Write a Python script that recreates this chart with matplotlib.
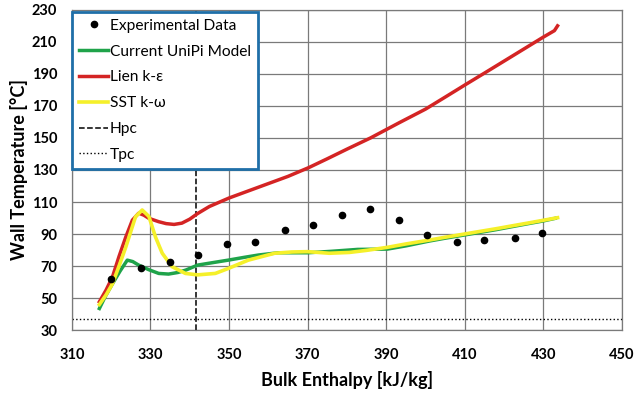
import numpy as np
import matplotlib.pyplot as plt

plt.rcParams['font.family'] = ['Lato', 'DejaVu Sans']

# experimental wall temperatures
h_exp = [320.0, 327.5, 335.0, 342.2, 349.4, 356.7, 364.2, 371.3, 378.7,
         385.9, 393.2, 400.5, 407.9, 415.0, 422.7, 429.7]
t_exp = [61.7, 68.5, 72.7, 76.7, 83.5, 84.8, 92.3, 95.6, 102.0,
         105.4, 98.8, 89.6, 85.2, 86.2, 87.5, 90.4]

# current UniPi model
h_unipi = [317.0, 318.5, 320.3, 322.3, 324.1, 325.5, 327.0, 329.5, 332.1, 334.6,
           337.0, 339.0, 342.0, 346.0, 349.8, 354.0, 357.5, 362.5, 370.0,
           376.0, 382.7, 390.3, 395.0, 400.9, 405.0, 409.4, 413.5, 417.9,
           422.0, 426.4, 430.0, 433.0]
t_unipi = [43.5, 51.0, 58.8, 67.0, 73.7, 72.8, 70.6, 67.8, 65.4, 65.0,
           66.0, 67.5, 70.6, 72.2, 73.7, 75.5, 76.9, 78.3, 78.3,
           79.2, 80.4, 80.6, 82.6, 85.6, 87.4, 89.2, 90.9, 92.7,
           94.6, 96.6, 98.2, 99.8]

# Lien k-epsilon
h_lien = [317.0, 318.7, 320.3, 322.0, 323.7, 325.4, 327.0, 328.3, 329.6, 332.1,
          334.0, 336.0, 338.0, 340.0, 342.0, 345.0, 350.0, 355.0, 360.0, 365.0,
          370.3, 375.0, 380.0, 386.0, 393.3, 400.0, 405.0, 410.3, 415.0, 420.0,
          425.0, 430.0, 432.8, 433.6]
t_lien = [47.7, 55.0, 63.0, 76.0, 88.0, 98.7, 103.0, 101.8, 99.8, 97.7,
          96.5, 96.0, 96.8, 99.3, 102.8, 107.2, 112.5, 117.0, 121.5, 126.0,
          131.5, 137.0, 143.0, 150.0, 159.5, 168.0, 175.5, 183.5, 190.5, 198.0,
          205.5, 213.0, 217.0, 220.0]

# SST k-omega
h_sst = [317.0, 318.7, 320.3, 322.0, 323.7, 326.2, 327.9, 329.6, 331.3, 333.0,
         335.5, 338.9, 342.0, 346.5, 349.8, 354.9, 361.6, 366.0, 370.0,
         375.5, 380.6, 385.0, 390.3, 395.0, 400.9, 405.0, 409.4, 413.5,
         417.9, 422.0, 426.4, 430.0, 433.6]
t_sst = [46.0, 52.0, 58.8, 70.0, 81.7, 100.8, 105.0, 101.0, 88.0, 78.0,
         69.6, 65.4, 64.5, 65.4, 68.5, 73.7, 78.0, 78.8, 79.0,
         78.0, 78.5, 79.8, 81.7, 83.8, 86.2, 88.0, 89.8, 91.5,
         93.3, 95.1, 97.0, 98.6, 100.2]

h_pc = 341.7
t_pc = 37.0

fig = plt.figure(figsize=(6.36, 3.93), dpi=100)
ax = fig.add_axes([0.113, 0.160, 0.865, 0.815])

ax.plot(h_exp, t_exp, 'o', color='black', markersize=4.5, label='Experimental Data', zorder=5)
ax.plot(h_unipi, t_unipi, color='#1fa34a', lw=2.5, label='Current UniPi Model', zorder=3)
ax.plot(h_lien, t_lien, color='#d42424', lw=2.5, label='Lien k-ε', zorder=3)
ax.plot(h_sst, t_sst, color='#f5f02a', lw=2.6, label='SST k-ω', zorder=4)
ax.axvline(h_pc, color='black', ls='--', lw=1.1, label='Hpc', zorder=2)
ax.axhline(t_pc, color='black', ls=':', lw=1.0, label='Tpc', zorder=2)

ax.set_xlim(310, 450)
ax.set_ylim(30, 230)
ax.set_xticks(np.arange(310, 451, 20))
ax.set_yticks(np.arange(30, 231, 20))
ax.grid(True, color='#7a7a7a', lw=0.9)
ax.set_axisbelow(True)
ax.tick_params(length=0, labelsize=10.5)
ax.tick_params(axis='x', pad=13)
ax.tick_params(axis='y', pad=10.5)
for lab in ax.get_xticklabels() + ax.get_yticklabels():
    lab.set_fontweight('bold')
for s in ax.spines.values():
    s.set_color('#7a7a7a')
    s.set_linewidth(0.9)

ax.set_xlabel('Bulk Enthalpy [kJ/kg]', fontsize=13, fontweight='bold', labelpad=6)
ax.set_ylabel('Wall Temperature [°C]', fontsize=13, fontweight='bold', labelpad=2.5)

leg = ax.legend(loc='upper left', bbox_to_anchor=(0.0, 0.994), borderaxespad=0,
                fontsize=11.2, handlelength=1.9, handletextpad=0.1, labelspacing=0.76,
                borderpad=0.45, fancybox=False, framealpha=1)
leg.get_frame().set_edgecolor('#1f6fa8')
leg.get_frame().set_linewidth(2.0)

fig.savefig('out.png', dpi=100)
